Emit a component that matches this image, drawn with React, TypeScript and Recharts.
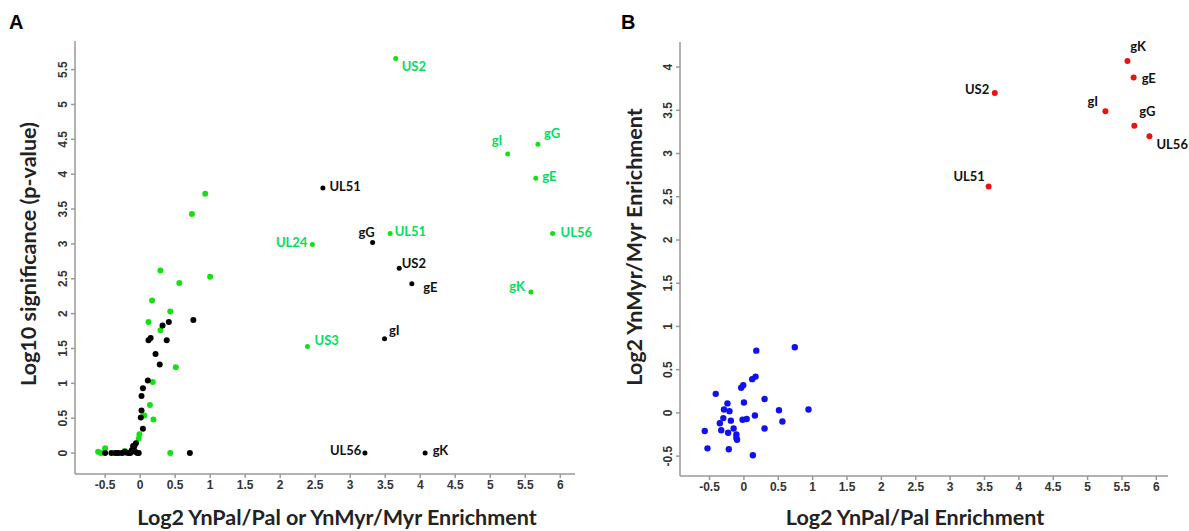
import { ScatterChart, Scatter, XAxis, YAxis } from 'recharts';

// Panel A: black = YnMyr/Myr, green = YnPal/Pal
const myrLabels = ['UL51', 'gG', 'US2', 'gE', 'gI', 'UL56', 'gK'];
const myrLabelX = [2.61, 3.32, 3.70, 3.88, 3.49, 3.21, 4.07];
const myrLabelSig = [3.80, 3.02, 2.65, 2.43, 1.64, 0, 0];

const myrOtherX = [0.76, 0.32, 0.41, 0.12, 0.15, 0.38, 0.22, 0.28, 0.11, 0.04, 0.02, 0.02, 0.01, 0.04, 0.71, -0.5, -0.41, -0.35, -0.31, -0.26, -0.22, -0.2, -0.17, -0.14, -0.12, -0.1, -0.09, -0.07, -0.06, -0.04, -0.02, -0.08];
const myrOtherSig = [1.91, 1.83, 1.88, 1.62, 1.65, 1.62, 1.42, 1.27, 1.04, 0.93, 0.82, 0.61, 0.51, 0.35, 0, 0, 0, 0, 0, 0, 0.02, 0.01, 0, 0, 0.04, 0.1, 0.08, 0.02, 0.14, 0, 0, 0.11];

const palLabels = ['US2', 'gI', 'gG', 'gE', 'UL51', 'UL56', 'UL24', 'gK', 'US3'];
const palLabelX = [3.65, 5.25, 5.68, 5.65, 3.57, 5.89, 2.46, 5.58, 2.39];
const palLabelSig = [5.66, 4.29, 4.43, 3.94, 3.15, 3.15, 2.99, 2.31, 1.53];

const palOtherX = [0.93, 0.74, 0.29, 0.56, 1.0, 0.17, 0.43, 0.12, 0.29, 0.51, 0.18, 0.14, 0.06, 0.19, -0.01, -0.02, 0.43, -0.6, -0.56, -0.5, -0.36, -0.33, -0.22, -0.1, -0.25];
const palOtherSig = [3.72, 3.43, 2.62, 2.44, 2.53, 2.19, 2.03, 1.88, 1.76, 1.23, 1.02, 0.69, 0.54, 0.48, 0.27, 0.21, 0, 0.02, 0, 0.07, 0, 0, 0.03, 0.04, 0];

// Panel B: x = YnPal/Pal, y = YnMyr/Myr
const bLabels = ['gK', 'gE', 'US2', 'gI', 'gG', 'UL56', 'UL51'];
const bLabelPal = [5.58, 5.67, 3.65, 5.26, 5.68, 5.90, 3.56];
const bLabelMyr = [4.07, 3.88, 3.70, 3.49, 3.32, 3.20, 2.62];

const bOtherPal = [-0.57, -0.53, -0.41, -0.35, -0.33, -0.30, -0.29, -0.24, -0.23, -0.22, -0.21, -0.19, -0.15, -0.11, -0.10, -0.11, -0.04, -0.01, -0.02, 0.0, 0.04, 0.12, 0.17, 0.18, 0.16, 0.13, 0.30, 0.30, 0.51, 0.56, 0.74, 0.94];
const bOtherMyr = [-0.21, -0.41, 0.22, -0.12, -0.20, -0.06, 0.04, 0.11, -0.23, -0.42, 0.02, -0.09, -0.18, -0.25, -0.31, -0.29, 0.29, 0.32, -0.08, 0.12, -0.07, 0.39, 0.42, 0.72, -0.03, -0.49, 0.16, -0.18, 0.03, -0.10, 0.76, 0.04];

const xTicks = [-0.5, 0, 0.5, 1, 1.5, 2, 2.5, 3, 3.5, 4, 4.5, 5, 5.5, 6];
const aYTicks = [0, 0.5, 1, 1.5, 2, 2.5, 3, 3.5, 4, 4.5, 5, 5.5];
const bYTicks = [-0.5, 0, 0.5, 1, 1.5, 2, 2.5, 3, 3.5, 4];

const toPoints = (xs: number[], ys: number[], names?: string[]) =>
  xs.map((x, i) => ({ x, y: ys[i], name: names ? names[i] : '' }));

// label offsets: [dx, dy, anchor]
const myrOffsets: Record<string, [number, number, string]> = {
  UL51: [6.5, -2, 'start'],
  gG: [2, -11, 'end'],
  US2: [2.5, -5, 'start'],
  gE: [11.5, 3, 'start'],
  gI: [4.5, -9, 'start'],
  UL56: [-3.5, -3, 'end'],
  gK: [7.5, -3, 'start'],
};
const palOffsets: Record<string, [number, number, string]> = {
  US2: [6, 8, 'start'],
  gI: [-5.5, -14, 'end'],
  gG: [6, -11.5, 'start'],
  gE: [6.5, -2, 'start'],
  UL51: [4.5, -2.5, 'start'],
  UL56: [8, -1.5, 'start'],
  UL24: [-5, -2.5, 'end'],
  gK: [-6, -6, 'end'],
  US3: [7, -6, 'start'],
};
const bOffsets: Record<string, [number, number, string]> = {
  gK: [2.7, -15.5, 'start'],
  gE: [8, 0.7, 'start'],
  US2: [-5.5, -3.7, 'end'],
  gI: [-7.4, -10, 'end'],
  gG: [5, -14.6, 'start'],
  UL56: [7, 7.5, 'start'],
  UL51: [-3.7, -10, 'end'],
};

const LABEL_FONT = 'Lato, "Open Sans", sans-serif';
const TICK_FONT = '"Liberation Sans", Arial, sans-serif';

const dotShape = (fill: string, r: number, textColor?: string, offsets?: Record<string, [number, number, string]>) =>
  (props: any) => {
    const { cx, cy, payload } = props;
    const off = offsets && payload?.name ? offsets[payload.name] : null;
    return (
      <g>
        <circle cx={cx} cy={cy} r={r} fill={fill} />
        {off && (
          <text
            x={cx + off[0]}
            y={cy + off[1]}
            textAnchor={off[2] as any}
            dominantBaseline="central"
            fill={textColor}
            fontFamily={LABEL_FONT}
            fontWeight={700}
            fontSize={13}
          >
            {payload.name}
          </text>
        )}
      </g>
    );
  };

const VTick = ({ x, y, payload }: any) => (
  <text
    x={x - 2}
    y={y}
    transform={`rotate(-90, ${x - 2}, ${y})`}
    textAnchor="middle"
    fill="#333"
    fontSize={12}
    fontWeight="bold"
    fontFamily={TICK_FONT}
  >
    {payload.value}
  </text>
);

const axisProps = {
  stroke: '#999',
  strokeWidth: 1.5,
  tickSize: 4,
  interval: 0 as const,
};

const xTickStyle = { fill: '#333', fontSize: 12, fontWeight: 'bold', fontFamily: TICK_FONT };

const titleStyle: any = {
  position: 'absolute',
  fontFamily: LABEL_FONT,
  fontWeight: 700,
  fontSize: 21.5,
  color: '#222',
  whiteSpace: 'nowrap',
  lineHeight: 1,
};

export default function App() {
  return (
    <div style={{ position: 'relative', width: 1189, height: 531, background: '#fff', overflow: 'hidden' }}>
      <style>{'body{margin:0}'}</style>

      {/* Panel A */}
      <div style={{ position: 'absolute', left: 0, top: 0 }}>
        <ScatterChart width={600} height={531} margin={{ top: 41, right: 25, bottom: 0, left: 0 }}>
          <XAxis
            type="number"
            dataKey="x"
            domain={[-0.93, 6.21]}
            ticks={xTicks}
            height={57}
            tick={xTickStyle}
            {...axisProps}
          />
          <YAxis
            type="number"
            dataKey="y"
            domain={[-0.3, 5.91]}
            ticks={aYTicks}
            width={75}
            tick={<VTick />}
            {...axisProps}
          />
          <Scatter data={toPoints(palOtherX, palOtherSig)} shape={dotShape('#14e014', 3)} isAnimationActive={false} />
          <Scatter data={toPoints(myrOtherX, myrOtherSig)} shape={dotShape('#000', 3)} isAnimationActive={false} />
          <Scatter data={toPoints(myrLabelX, myrLabelSig, myrLabels)} shape={dotShape('#000', 2.5, '#111', myrOffsets)} isAnimationActive={false} />
          <Scatter data={toPoints(palLabelX, palLabelSig, palLabels)} shape={dotShape('#14e014', 2.5, '#00e05c', palOffsets)} isAnimationActive={false} />
        </ScatterChart>
      </div>

      {/* Panel B */}
      <div style={{ position: 'absolute', left: 600, top: 0 }}>
        <ScatterChart width={589} height={531} margin={{ top: 42, right: 21, bottom: 0, left: 0 }}>
          <XAxis
            type="number"
            dataKey="x"
            domain={[-0.93, 6.17]}
            ticks={xTicks}
            height={55}
            tick={xTickStyle}
            {...axisProps}
          />
          <YAxis
            type="number"
            dataKey="y"
            domain={[-0.73, 4.29]}
            ticks={bYTicks}
            width={80}
            tick={<VTick />}
            {...axisProps}
          />
          <Scatter data={toPoints(bOtherPal, bOtherMyr)} shape={dotShape('#1010f0', 3.2)} isAnimationActive={false} />
          <Scatter data={toPoints(bLabelPal, bLabelMyr, bLabels)} shape={dotShape('#f01010', 3, '#111', bOffsets)} isAnimationActive={false} />
        </ScatterChart>
      </div>

      {/* panel letters and axis titles */}
      <div style={{ ...titleStyle, fontFamily: TICK_FONT, fontSize: 20, left: 9, top: 12, color: '#000' }}>A</div>
      <div style={{ ...titleStyle, fontFamily: TICK_FONT, fontSize: 20, left: 621, top: 12, color: '#000' }}>B</div>

      <div style={{ ...titleStyle, left: 29, top: 254, transform: 'translate(-50%, -50%) rotate(-90deg)' }}>
        Log10 significance (p-value)
      </div>
      <div style={{ ...titleStyle, left: 337, top: 518, transform: 'translate(-50%, -50%)' }}>
        Log2 YnPal/Pal or YnMyr/Myr Enrichment
      </div>
      <div style={{ ...titleStyle, left: 635, top: 247, transform: 'translate(-50%, -50%) rotate(-90deg)' }}>
        Log2 YnMyr/Myr Enrichment
      </div>
      <div style={{ ...titleStyle, left: 915, top: 518, transform: 'translate(-50%, -50%)' }}>
        Log2 YnPal/Pal Enrichment
      </div>
    </div>
  );
}
